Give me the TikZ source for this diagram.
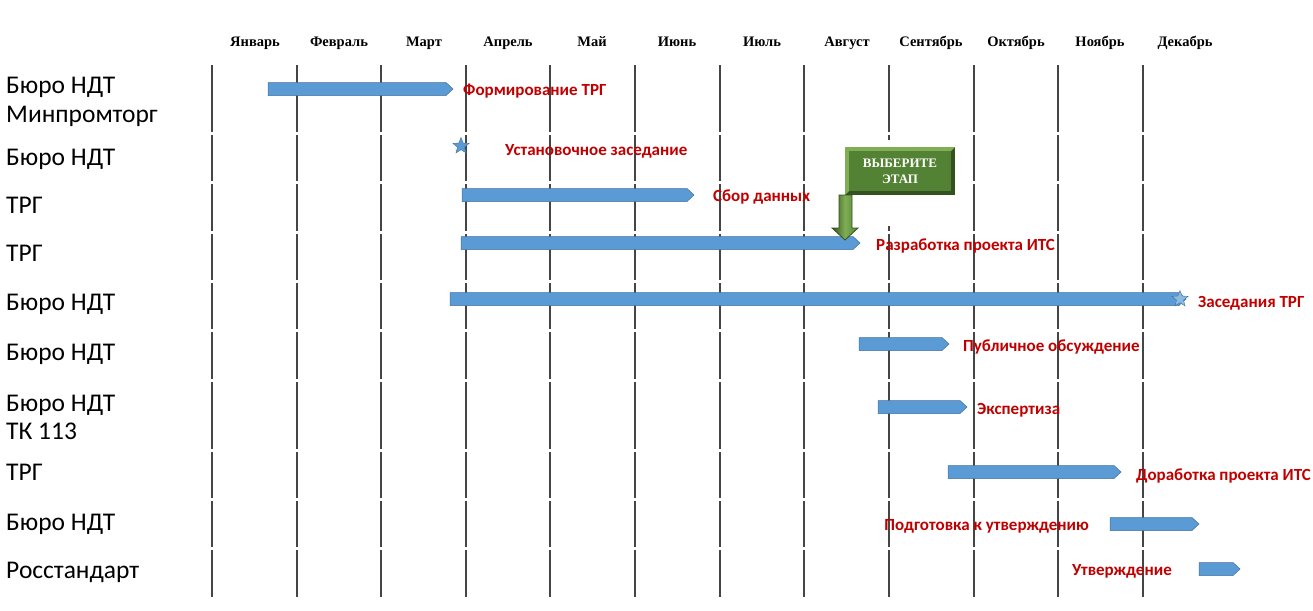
\documentclass[tikz,border=0pt]{standalone}
\usepackage{fontspec}
\setmainfont{Liberation Serif}
\newfontfamily\calibri{Carlito}
\usetikzlibrary{shapes.geometric}
\definecolor{barblue}{HTML}{5B9BD5}
\definecolor{barline}{HTML}{41719C}
\definecolor{labred}{HTML}{C00000}
\definecolor{btngreen}{HTML}{548235}
\definecolor{btndark}{HTML}{34521F}
\definecolor{btnlight}{HTML}{7FAE55}
\definecolor{gridgray}{HTML}{454545}

\tikzset{
  month/.style={font=\bfseries\fontsize{14.5}{17}\selectfont, inner sep=0pt, anchor=base},
  who/.style={font=\calibri\fontsize{25.5}{30}\selectfont, anchor=base west, inner sep=0pt},
  task/.style={font=\calibri\bfseries\fontsize{17}{20}\selectfont, text=labred, inner sep=0pt},
  ganttbar/.style={fill=barblue, draw=barline, line width=0.5pt},
  milestone/.style={star, star points=5, star point ratio=2.3, fill=barblue, draw=barline, line width=0.4pt, minimum size=17pt, inner sep=0pt},
  gridline/.style={gridgray, line width=1.8pt}
}

% bar with a pointed right end: start, end, row centre
\newcommand{\ganttarrow}[3]{%
  \draw[ganttbar] (#1,#3-6.5) -- (#2-7,#3-6.5) -- (#2,#3) -- (#2-7,#3+6.5) -- (#1,#3+6.5) -- cycle;}

\begin{document}
\begin{tikzpicture}[x=1pt,y=-1pt]
  \useasboundingbox (0,0) rectangle (1313,610);

  % month columns
  \foreach \m/\x [count=\i] in {Январь/255,Февраль/339,Март/424,Апрель/508,Май/592,Июнь/677,Июль/762,Август/847,Сентябрь/931,Октябрь/1016,Ноябрь/1100,Декабрь/1185}
    \node[month] (m\i) at (\x,46) {\m};

  % grid, broken at every row border
  \foreach \x in {212,297,381,466,550,635,720,804,889,974,1058,1143}
    \foreach \ya/\yb in {65/132,135/181,184/231,234/280,283/329,332/379,382/449,452/498,501/547,550/597}
      \draw[gridline] (\x,\ya) -- (\x,\yb);

  % who is responsible
  \node[who] (r1) at (6,93) {Бюро НДТ};
  \node[who] (r1b) at (6,122) {Минпромторг};
  \node[who] (r2) at (6,165) {Бюро НДТ};
  \node[who] (r3) at (6,213) {ТРГ};
  \node[who] (r4) at (6,261) {ТРГ};
  \node[who] (r5) at (6,310) {Бюро НДТ};
  \node[who] (r6) at (6,360) {Бюро НДТ};
  \node[who] (r7) at (6,411) {Бюро НДТ};
  \node[who] (r7b) at (6,439) {ТК 113};
  \node[who] (r8) at (6,480) {ТРГ};
  \node[who] (r9) at (6,530) {Бюро НДТ};
  \node[who] (r10) at (6,578) {Росстандарт};

  % stages
  \ganttarrow{268}{453}{89}
  \node[task, anchor=base west] (t1) at (463,95) {Формирование ТРГ};

  \node[milestone] (s2) at (461,146) {};
  \node[task, anchor=base west] (t2) at (505,155) {Установочное заседание};

  \ganttarrow{462}{694}{195}
  \node[task, anchor=base west] (t3) at (713,201) {Сбор данных};

  \ganttarrow{461}{860}{243}
  \node[task, anchor=base west] (t4) at (876,250) {Разработка проекта ИТС};

  \ganttarrow{450}{1186}{299}
  \node[milestone, fill=barblue!70] (s5) at (1180,299) {};
  \node[task, anchor=base west] (t5) at (1198,307) {Заседания ТРГ};

  \ganttarrow{859}{949}{344}
  \node[task, anchor=base west] (t6) at (963,351) {Публичное обсуждение};

  \ganttarrow{878}{967}{407}
  \node[task, anchor=base west] (t7) at (977,414) {Экспертиза};

  \ganttarrow{948}{1121}{472}
  \node[task, anchor=base west] (t8) at (1136,480) {Доработка проекта ИТС};

  \ganttarrow{1110}{1199}{524}
  \node[task, anchor=base east] (t9) at (1089,530) {Подготовка к утверждению};

  \ganttarrow{1199}{1240}{569}
  \node[task, anchor=base east] (t10) at (1172,575) {Утверждение};

  % the "choose a stage" button
  \fill[white] (834,140) rectangle (960,226);
  \fill[btndark] (845,147) rectangle (955,195);
  \fill[btnlight] (845,147) -- (955,147) -- (951,151) -- (849,151) -- (849,191) -- (845,195) -- cycle;
  \node[fill=btngreen, minimum width=102pt, minimum height=40pt, inner sep=0pt,
        text=white, font=\bfseries\fontsize{13}{16}\selectfont, align=center] (btn) at (900,171) {ВЫБЕРИТЕ\\ЭТАП};
  \coordinate (tip) at (845,240);
  \draw[left color=btndark, right color=btngreen, middle color=btnlight, draw=btndark, line width=0.8pt]
    (839,195) -- (852,195) -- (852,228) -- (858,228) -- (tip) -- (832,228) -- (839,228) -- cycle;
\end{tikzpicture}
\end{document}
